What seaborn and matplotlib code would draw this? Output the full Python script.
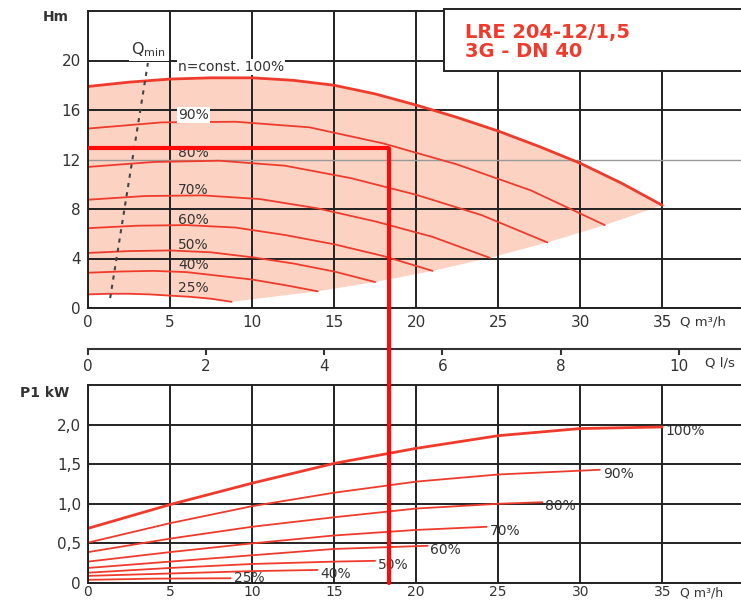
"""Pump performance chart: head H and power P1 vs flow Q (LRE 204-12/1,5)."""

import matplotlib

matplotlib.use("Agg")

import matplotlib.pyplot as plt
import seaborn as sns
from matplotlib.patches import ConnectionPatch, Rectangle

# ── data ──
SPEED_LABELS = ["100%", "90%", "80%", "70%", "60%", "50%", "40%", "25%"]

# head curves H [m] vs Q [m³/h]
h_q_100 = [0, 2.5, 5, 7.5, 10, 12.5, 15, 17.5, 20, 22.5, 25, 27.5, 30, 32.5, 35]
h_h_100 = [17.9, 18.25, 18.5, 18.6, 18.6, 18.4, 18.0, 17.3, 16.4, 15.4, 14.3, 13.05, 11.7, 10.1, 8.3]
h_q_90 = [0, 4.5, 9, 13.5, 18, 22.5, 27, 31.5]
h_h_90 = [14.5, 15.0, 15.05, 14.6, 13.3, 11.6, 9.5, 6.7]
h_q_80 = [0, 4, 8, 12, 16, 20, 24, 28]
h_h_80 = [11.4, 11.8, 11.9, 11.5, 10.5, 9.15, 7.5, 5.3]
h_q_70 = [0, 3.5, 7, 10.5, 14, 17.5, 21, 24.5]
h_h_70 = [8.75, 9.05, 9.1, 8.8, 8.05, 7.0, 5.75, 4.05]
h_q_60 = [0, 3, 6, 9, 12, 15, 18, 21]
h_h_60 = [6.45, 6.65, 6.7, 6.5, 5.9, 5.15, 4.2, 3.0]
h_q_50 = [0, 2.5, 5, 7.5, 10, 12.5, 15, 17.5]
h_h_50 = [4.45, 4.6, 4.65, 4.5, 4.1, 3.6, 2.95, 2.1]
h_q_40 = [0, 2, 4, 6, 8, 10, 12, 14]
h_h_40 = [2.85, 2.95, 3.0, 2.9, 2.6, 2.3, 1.85, 1.35]
h_q_25 = [0, 1.25, 2.5, 3.75, 5, 6.25, 7.5, 8.75]
h_h_25 = [1.1, 1.15, 1.15, 1.1, 1.0, 0.9, 0.75, 0.5]

# Qmin line
qmin_q = [1.35, 3.65]
qmin_h = [0.8, 19.8]

# power curves P1 [kW] vs Q [m³/h]
p_q_100 = [0, 5, 10, 15, 20, 25, 30, 35]
p_p_100 = [0.69, 0.99, 1.26, 1.51, 1.70, 1.86, 1.95, 1.97]
p_q_90 = [0, 5, 10, 15, 20, 25, 31.2]
p_p_90 = [0.51, 0.755, 0.97, 1.14, 1.28, 1.37, 1.43]
p_q_80 = [0, 5, 10, 15, 20, 25, 27.7]
p_p_80 = [0.39, 0.56, 0.71, 0.83, 0.94, 1.0, 1.02]
p_q_70 = [0, 5, 10, 15, 20, 24.3]
p_p_70 = [0.27, 0.39, 0.50, 0.60, 0.67, 0.71]
p_q_60 = [0, 5, 10, 15, 20.7]
p_p_60 = [0.19, 0.27, 0.35, 0.43, 0.47]
p_q_50 = [0, 5, 10, 15, 17.5]
p_p_50 = [0.13, 0.19, 0.24, 0.27, 0.28]
p_q_40 = [0, 5, 10, 14]
p_p_40 = [0.09, 0.12, 0.15, 0.165]
p_q_25 = [0, 4, 8.7]
p_p_25 = [0.04, 0.055, 0.06]

# operating point
OP_Q = 18.35
OP_H = 12.9

H_TICKS = [0, 4, 8, 12, 16, 20]
P_TICKS = [0, 0.5, 1.0, 1.5, 2.0]
P_TICKLABELS = ["0", "0,5", "1,0", "1,5", "2,0"]
Q_TICKS = [0, 5, 10, 15, 20, 25, 30, 35]
QLS_TICKS = [0, 2, 4, 6, 8, 10]

TITLE_LINES = ["LRE 204-12/1,5", "3G - DN 40"]

# ── style ──
CURVE_RED = "#ef3b2c"
SHADE = "#fcd3c3"
OP_RED = "#ff0a0a"
GRID = "#222222"
TEXT = "#333333"

sns.set_theme(style="white")
plt.rcParams["font.family"] = ["DejaVu Sans"]

head_curves = [
    (h_q_100, h_h_100), (h_q_90, h_h_90), (h_q_80, h_h_80), (h_q_70, h_h_70),
    (h_q_60, h_h_60), (h_q_50, h_h_50), (h_q_40, h_h_40), (h_q_25, h_h_25),
]
power_curves = [
    (p_q_100, p_p_100), (p_q_90, p_p_90), (p_q_80, p_p_80), (p_q_70, p_p_70),
    (p_q_60, p_p_60), (p_q_50, p_p_50), (p_q_40, p_p_40), (p_q_25, p_p_25),
]

fig = plt.figure(figsize=(7.41, 6.01), dpi=100)
ax_h = fig.add_axes([88 / 741, 293 / 601, 653 / 741, 297 / 601])
ax_p = fig.add_axes([88 / 741, 18 / 601, 653 / 741, 198 / 601])


def _frame(ax, ylim, yticks):
    ax.set_xlim(0, 39.8)
    ax.set_ylim(*ylim)
    ax.set_xticks(Q_TICKS)
    ax.set_yticks(yticks)
    ax.set_axisbelow(True)
    ax.grid(True, color=GRID, linewidth=1.4)
    for side in ("left", "top", "bottom"):
        ax.spines[side].set_visible(True)
        ax.spines[side].set_color(GRID)
        ax.spines[side].set_linewidth(1.4)
    ax.spines["right"].set_visible(False)
    ax.tick_params(length=0, pad=5, labelsize=11, labelcolor=TEXT)
    ax.set_xlabel("")
    ax.set_ylabel("")


# ── head chart ──
# shaded operating field: 100% curve on top, curve end points + 25% curve below
lower_q = [c[0][-1] for c in head_curves[1:]] + h_q_25[::-1]
lower_h = [c[1][-1] for c in head_curves[1:]] + h_h_25[::-1]
ax_h.fill(h_q_100 + lower_q, h_h_100 + lower_h, color=SHADE, lw=0, zorder=0.2)

for i, (q, h) in enumerate(head_curves):
    sns.lineplot(x=q, y=h, ax=ax_h, color=CURVE_RED, sort=False, estimator=None,
                 linewidth=2.0 if i == 0 else 1.3, zorder=2)

sns.lineplot(x=qmin_q, y=qmin_h, ax=ax_h, color="#444444", sort=False, estimator=None,
             linewidth=1.5, dashes=False, zorder=2).lines[-1].set_dashes((2, 2.5))

_frame(ax_h, (0, 24), H_TICKS)
for val, gl in zip(H_TICKS, ax_h.get_ygridlines()):
    if val == 12:
        gl.set_color("#9a9a9a")
        gl.set_linewidth(1.0)

label_box = dict(facecolor="white", edgecolor="none", pad=0.8)
head_label_h = [19.45, 15.6, 12.55, 9.55, 7.1, 5.1, 3.5, 1.6]
for i, (txt, y) in enumerate(zip(SPEED_LABELS, head_label_h)):
    if i == 0:
        txt = "n=const. " + txt
        box = label_box
    elif i == 1:
        box = label_box
    else:
        box = None
    ax_h.text(5.5, y, txt, fontsize=10, color=TEXT, ha="left", va="center",
              bbox=box, zorder=3)

ax_h.text(3.7, 20.9, r"Q$_{\mathrm{min}}$", fontsize=11.5, color=TEXT, ha="center",
          va="center", bbox=dict(facecolor="white", edgecolor="none", pad=2), zorder=3)

# operating point lines
ax_h.plot([0, OP_Q], [OP_H, OP_H], color=OP_RED, lw=3.0, zorder=4, solid_capstyle="butt")

# type box
ax_h.add_patch(Rectangle((0.545, 0.798), 0.47, 0.21, transform=ax_h.transAxes,
                         facecolor="white", edgecolor=GRID, lw=1.4, zorder=4,
                         clip_on=False))
ax_h.text(0.577, 0.929, TITLE_LINES[0], transform=ax_h.transAxes, fontsize=14,
          fontweight="bold", color=CURVE_RED, ha="left", va="center", zorder=5)
ax_h.text(0.577, 0.862, TITLE_LINES[1], transform=ax_h.transAxes, fontsize=14,
          fontweight="bold", color=CURVE_RED, ha="left", va="center", zorder=5)

ax_h.text(-0.05, 0.98, "Hm", transform=ax_h.transAxes, fontsize=10,
          fontweight="bold", color=TEXT, ha="center", va="center")
ax_h.text(0.907, -0.047, "Q m³/h", transform=ax_h.transAxes, fontsize=9.5,
          color=TEXT, ha="left", va="center")

# second flow scale in l/s
sec = ax_h.secondary_xaxis(-0.138, functions=(lambda q: q / 3.6, lambda l: l * 3.6))
sec.set_xticks(QLS_TICKS)
sec.tick_params(direction="out", length=4, width=1.5, color=TEXT, labelsize=11,
                labelcolor=TEXT, pad=3)
sec.spines["bottom"].set_color(TEXT)
sec.spines["bottom"].set_linewidth(1.5)
ax_h.text(0.945, -0.185, "Q l/s", transform=ax_h.transAxes, fontsize=9.5,
          color=TEXT, ha="left", va="center")

# ── power chart ──
for i, (q, p) in enumerate(power_curves):
    sns.lineplot(x=q, y=p, ax=ax_p, color=CURVE_RED, sort=False, estimator=None,
                 linewidth=2.0 if i == 0 else 1.3, zorder=2)
    # lowest label sits right on the frame, lift it a little
    dy = 0 if i == len(power_curves) - 1 else -3
    ax_p.annotate(SPEED_LABELS[i], (q[-1], p[-1]), xytext=(2, dy),
                  textcoords="offset points", fontsize=10, color=TEXT,
                  ha="left", va="center", zorder=3)

_frame(ax_p, (0, 2.5), P_TICKS)
ax_p.set_yticklabels(P_TICKLABELS)
# bottom labels sit tight under the frame so they stay inside the figure
ax_p.tick_params(axis="x", pad=1.5, labelsize=10)
ax_p.text(-0.066, 0.96, "P1 kW", transform=ax_p.transAxes, fontsize=10,
          fontweight="bold", color=TEXT, ha="center", va="center")
ax_p.text(0.907, -0.052, "Q m³/h", transform=ax_p.transAxes, fontsize=9,
          color=TEXT, ha="left", va="center")

# vertical operating line running from the head chart down into the power chart
fig.add_artist(ConnectionPatch(xyA=(OP_Q, OP_H), coordsA=ax_h.transData,
                               xyB=(OP_Q, 0), coordsB=ax_p.transData,
                               color=OP_RED, lw=3.0, zorder=10))

fig.savefig("out.png", dpi=100)
